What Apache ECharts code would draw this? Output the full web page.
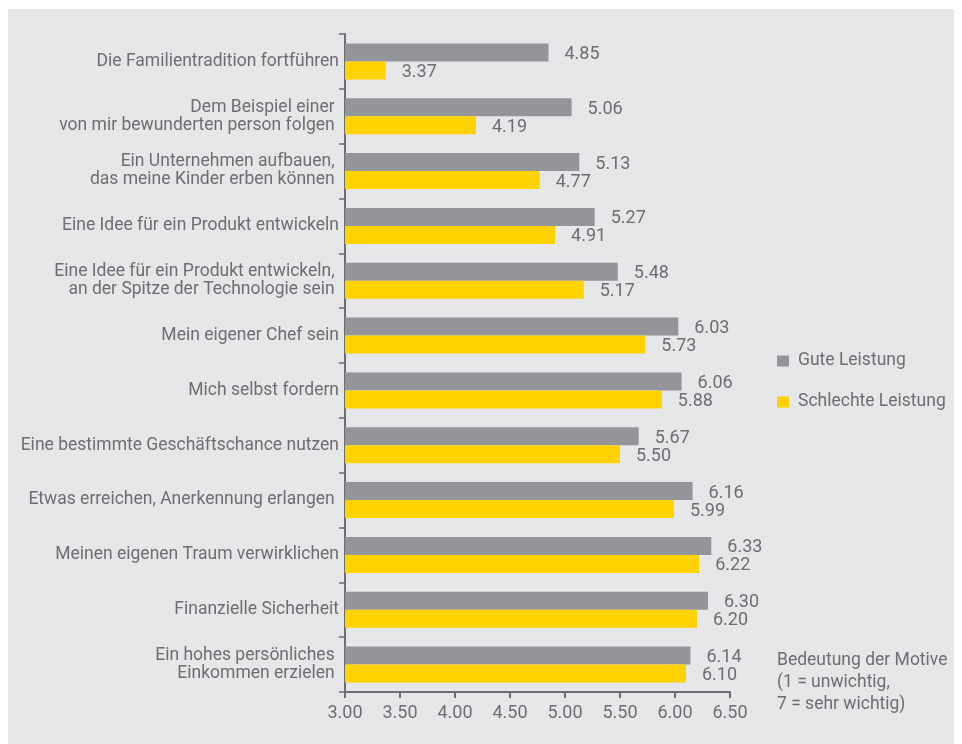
<!DOCTYPE html>
<html>
<head>
<meta charset="utf-8">
<script src="https://cdn.jsdelivr.net/npm/echarts@6/dist/echarts.min.js"></script>
<style>
  html, body { margin: 0; padding: 0; background: #ffffff; }
  #chart { width: 962px; height: 744px; }
</style>
</head>
<body>
<div id="chart"></div>
<script>
// Motives for founding a company, rated 1 (unimportant) to 7 (very important)
const categories = [
  'Die Familientradition fortführen',
  'Dem Beispiel einer \nvon mir bewunderten person folgen ',
  'Ein Unternehmen aufbauen, \ndas meine Kinder erben können ',
  'Eine Idee für ein Produkt entwickeln',
  'Eine Idee für ein Produkt entwickeln, \nan der Spitze der Technologie sein ',
  'Mein eigener Chef sein',
  'Mich selbst fordern',
  'Eine bestimmte Geschäftschance nutzen',
  'Etwas erreichen, Anerkennung erlangen ',
  'Meinen eigenen Traum verwirklichen',
  'Finanzielle Sicherheit',
  'Ein hohes persönliches \nEinkommen erzielen '
];
const guteLeistung = [4.85, 5.06, 5.13, 5.27, 5.48, 6.03, 6.06, 5.67, 6.16, 6.33, 6.30, 6.14];
const schlechteLeistung = [3.37, 4.19, 4.77, 4.91, 5.17, 5.73, 5.88, 5.50, 5.99, 6.22, 6.20, 6.10];
const seriesNames = ['Gute Leistung', 'Schlechte Leistung'];
const noteLines = ['Bedeutung der Motive', '(1 = unwichtig,', '7 = sehr wichtig)'];

const textColor = '#6d6e71';
const fontFamily = 'Roboto, "Noto Sans", sans-serif';

const chart = echarts.init(document.getElementById('chart'), null, { renderer: 'canvas' });

const valueLabel = {
  show: true,
  position: 'right',
  distance: 16,
  offset: [0, 2],
  color: textColor,
  fontFamily: fontFamily,
  fontSize: 18,
  formatter: p => p.value.toFixed(2)
};

chart.setOption({
  animation: false,
  backgroundColor: '#ffffff',
  graphic: [
    {
      type: 'rect',
      left: 8, top: 9,
      shape: { width: 946, height: 735 },
      style: { fill: '#e6e7e8' },
      z: -10
    },
    {
      type: 'text',
      left: 777, top: 650,
      style: {
        text: noteLines.join('\n'),
        fill: textColor,
        font: '17.5px ' + fontFamily,
        lineHeight: 22
      }
    }
  ],
  legend: {
    orient: 'vertical',
    left: 777,
    top: 352,
    padding: 0,
    itemWidth: 12,
    itemHeight: 11,
    itemGap: 23,
    icon: 'rect',
    textStyle: { color: textColor, fontFamily: fontFamily, fontSize: 17.5, padding: [0, 0, 0, 4] },
    data: seriesNames
  },
  grid: { left: 345, right: 232, top: 34, bottom: 52, containLabel: false },
  xAxis: {
    type: 'value',
    min: 3,
    max: 6.5,
    interval: 0.5,
    splitLine: { show: false },
    axisLine: { show: true, lineStyle: { color: textColor, width: 2 } },
    axisTick: { show: true, length: 6, lineStyle: { color: textColor, width: 2 } },
    axisLabel: {
      color: textColor, fontFamily: fontFamily, fontSize: 18, margin: 12,
      formatter: v => v.toFixed(2)
    }
  },
  yAxis: {
    type: 'category',
    inverse: true,
    data: categories,
    axisLine: { show: true, lineStyle: { color: textColor, width: 2 } },
    axisTick: { show: true, length: 6, lineStyle: { color: textColor, width: 1.5 } },
    axisLabel: {
      color: textColor, fontFamily: fontFamily, fontSize: 17.5, margin: 6,
      lineHeight: 18, align: 'right'
    }
  },
  series: [
    {
      name: seriesNames[0],
      type: 'bar',
      data: guteLeistung,
      barWidth: 18,
      barGap: '0%',
      itemStyle: { color: '#939598' },
      label: valueLabel
    },
    {
      name: seriesNames[1],
      type: 'bar',
      data: schlechteLeistung,
      barWidth: 18,
      barGap: '0%',
      itemStyle: { color: '#ffd200' },
      label: valueLabel
    }
  ]
});
</script>
</body>
</html>
